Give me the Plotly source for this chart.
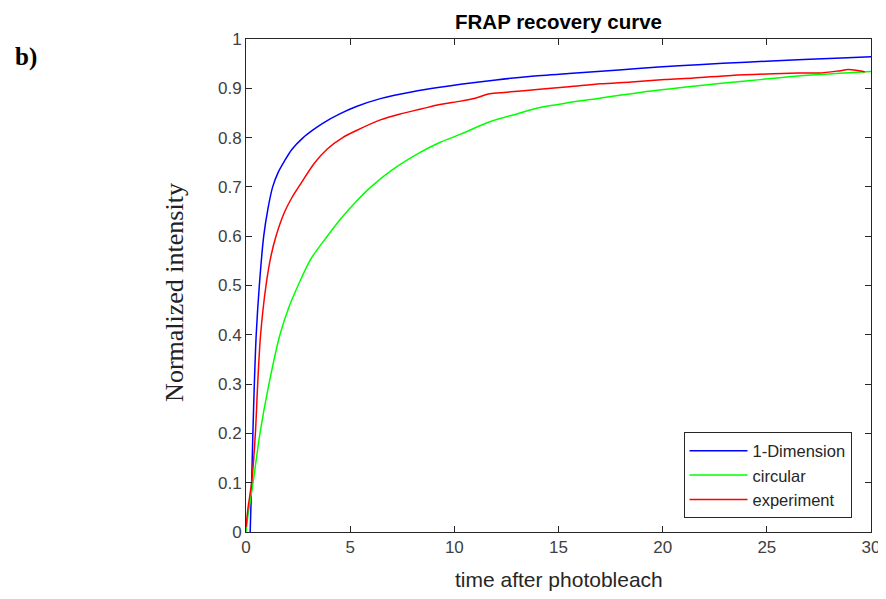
import plotly.graph_objects as go

# ---- data ----
t_1d = [0.2, 0.27, 0.33, 0.4, 0.49, 0.64, 0.85, 1.05, 1.28, 1.55, 1.84, 2.2, 2.72, 3.2,
        3.68, 4.5, 5.3, 6.45, 8.0, 9.3, 10.3, 12.0, 13.6, 15.5, 17.9, 19.8, 21.7, 24.0,
        26.5, 28.3, 30.0]
v_1d = [0.0, 0.1, 0.2, 0.3, 0.4, 0.5, 0.6, 0.655, 0.7, 0.73, 0.752, 0.776, 0.799, 0.815,
        0.829, 0.848, 0.863, 0.879, 0.893, 0.902, 0.908, 0.917, 0.924, 0.930, 0.937, 0.943,
        0.948, 0.953, 0.958, 0.961, 0.964]

t_circ = [0.0, 0.1, 0.34, 0.67, 1.1, 1.63, 2.05, 2.5, 3.1, 3.9, 4.6, 5.28, 6.0, 7.0, 8.36,
          9.3, 10.3, 11.7, 13.0, 14.1, 15.5, 17.0, 19.0, 21.7, 24.0, 26.5, 28.3, 30.0]
v_circ = [0.0, 0.035, 0.1, 0.2, 0.3, 0.4, 0.455, 0.5, 0.553, 0.6, 0.638, 0.67, 0.7, 0.734,
          0.77, 0.79, 0.807, 0.832, 0.848, 0.861, 0.871, 0.880, 0.892, 0.905, 0.915, 0.925,
          0.930, 0.934]

t_exp = [0.0, 0.1, 0.27, 0.45, 0.56, 0.7, 0.96, 1.2, 1.44, 1.84, 2.2, 2.56, 3.28, 3.9,
         4.64, 5.28, 6.45, 7.4, 8.4, 9.3, 10.3, 11.0, 11.7, 12.5, 14.1, 15.5, 17.0, 18.5,
         20.1, 21.5, 23.3, 25.0, 26.5, 27.5, 28.4, 28.9, 29.2, 29.5, 29.7]
v_exp = [0.01, 0.05, 0.1, 0.2, 0.3, 0.4, 0.5, 0.56, 0.6, 0.648, 0.678, 0.702, 0.748, 0.777,
         0.8, 0.814, 0.836, 0.848, 0.858, 0.867, 0.874, 0.880, 0.889, 0.892, 0.898, 0.903,
         0.909, 0.913, 0.918, 0.921, 0.926, 0.929, 0.931, 0.931, 0.935, 0.938, 0.937, 0.935,
         0.933]

x_ticks = [0, 5, 10, 15, 20, 25, 30]
x_tick_labels = ["0", "5", "10", "15", "20", "25", "30"]
y_ticks = [0, 0.1, 0.2, 0.3, 0.4, 0.5, 0.6, 0.7, 0.8, 0.9, 1]
y_tick_labels = ["0", "0.1", "0.2", "0.3", "0.4", "0.5", "0.6", "0.7", "0.8", "0.9", "1"]

series_names = ["1-Dimension", "circular", "experiment"]
series_colors = ["#0000ff", "#00ff00", "#ff0000"]

# ---- figure ----
SANS = "Liberation Sans, Arial, sans-serif"
SERIF = "Liberation Serif, Times New Roman, serif"
AX = "#262626"

fig = go.Figure()
for name, tx, vy, col in zip(series_names, [t_1d, t_circ, t_exp], [v_1d, v_circ, v_exp], series_colors):
    fig.add_trace(go.Scatter(x=tx, y=vy, mode="lines", name=name,
                             line=dict(color=col, width=1.5, shape="spline", smoothing=0.8)))

axis_common = dict(showline=True, linecolor=AX, linewidth=1, mirror="ticks",
                   ticks="inside", ticklen=6, tickcolor=AX, tickwidth=1,
                   showgrid=False, zeroline=False, automargin=False,
                   tickfont=dict(family=SANS, size=17, color="#404040"))

fig.update_xaxes(range=[0, 30], tickvals=x_ticks, ticktext=x_tick_labels, **axis_common)
fig.update_yaxes(range=[0, 1], tickvals=y_ticks, ticktext=y_tick_labels, **axis_common)

# page body has an 8px margin: figure is drawn 8px right/down
fig.update_layout(
    width=878, height=583,
    margin=dict(l=238, r=15, t=31, b=59),
    paper_bgcolor="white", plot_bgcolor="white",
    showlegend=True,
    legend=dict(x=0.700, y=0.202, xanchor="left", yanchor="top",
                bgcolor="white", bordercolor=AX, borderwidth=1,
                font=dict(family=SANS, size=16.5, color="#262626"),
                tracegroupgap=0, itemwidth=58),
    annotations=[
        dict(text="<b>FRAP recovery curve</b>", xref="paper", yref="paper",
             x=0.5, y=1, yshift=4, xanchor="center", yanchor="bottom", showarrow=False,
             font=dict(family=SANS, size=20.5, color="black")),
        dict(text="time after photobleach", xref="paper", yref="paper",
             x=0.5, y=0, yshift=-34, xanchor="center", yanchor="top", showarrow=False,
             font=dict(family=SANS, size=21, color="#262626")),
        dict(text="Normalized intensity", xref="paper", yref="paper",
             x=0, y=0.485, xshift=-71, xanchor="center", yanchor="middle",
             textangle=-90, showarrow=False,
             font=dict(family=SERIF, size=26, color="#222222")),
        dict(text="<b>b)</b>", xref="paper", yref="paper",
             x=0, y=1, xshift=-233, yshift=-2, xanchor="left", yanchor="top",
             showarrow=False,
             font=dict(family=SERIF, size=25, color="black")),
    ],
)

fig.write_html("out.html")
